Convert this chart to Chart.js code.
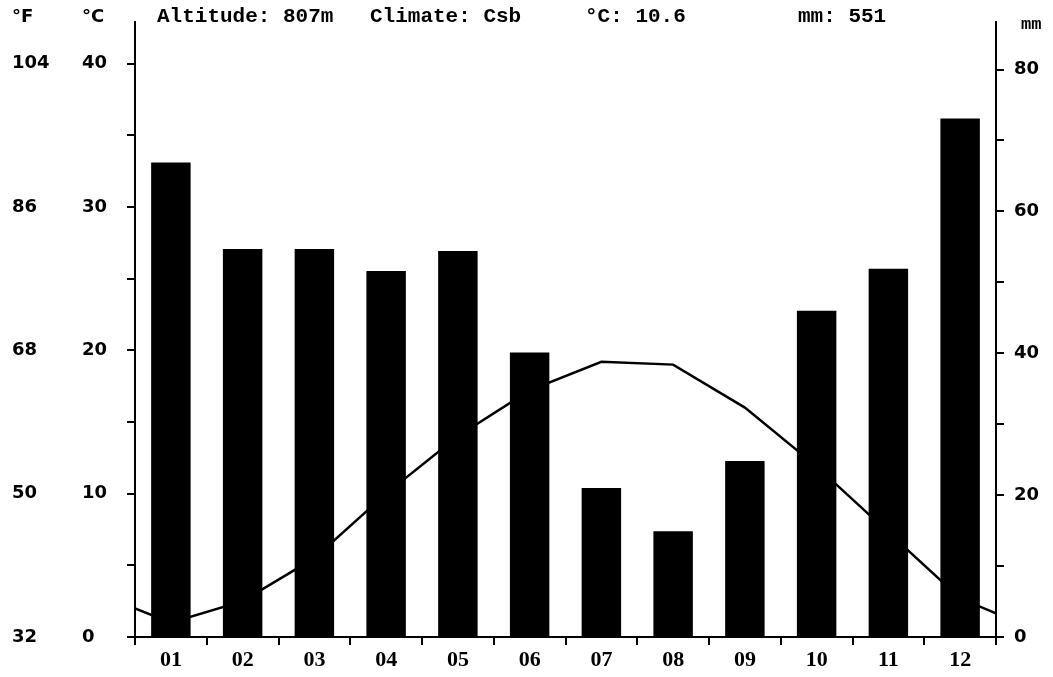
<!DOCTYPE html>
<html>
<head>
<meta charset="utf-8">
<script src="https://cdn.jsdelivr.net/npm/chart.js@4.4.0/dist/chart.umd.min.js"></script>
<style>
    html, body { margin: 0; padding: 0; background: #fff; }
    #wrap { width: 1053px; height: 677px; }
</style>
</head>
<body>
<div id="wrap"><canvas id="climateChart"></canvas></div>
<script>
// Climate diagram data
const months = ['01', '02', '03', '04', '05', '06', '07', '08', '09', '10', '11', '12'];
const precipitation = [66.9, 54.7, 54.7, 51.6, 54.4, 40.1, 21.0, 14.9, 24.8, 46.0, 51.9, 73.1]; // mm
const temperature = [1.0, 2.5, 5.5, 10.0, 14.0, 17.2, 19.2, 19.0, 16.0, 11.9, 7.3, 2.7];     // °C
const tempEdges = [2.0, 1.65]; // where the line meets the left / right border
const celsiusTicks = [0, 5, 10, 15, 20, 25, 30, 35, 40];
const fahrenheitTicks = [32, 50, 68, 86, 104];
const mmTicks = [0, 10, 20, 30, 40, 50, 60, 70, 80];
const altitude = '807m';
const climate = 'Csb';
const meanTemp = '10.6';
const totalRain = '551';

const C_MAX = 42.9;
const MM_MAX = 86.7;

const tickFont = { family: 'DejaVu Sans', size: 18, weight: 'bold' };

// month positions on a linear x axis (0..11), line gets the border values too
const barPoints = precipitation.map((p, i) => ({ x: i, y: p }));
const tempPoints = [{ x: -0.5, y: tempEdges[0] }]
    .concat(temperature.map((t, i) => ({ x: i, y: t })))
    .concat([{ x: 11.5, y: tempEdges[1] }]);

// header texts above the plot
const headerPlugin = {
    id: 'header',
    afterDraw(chart) {
        const { ctx, chartArea, scales } = chart;
        ctx.save();
        ctx.fillStyle = '#000';
        ctx.textBaseline = 'middle';
        ctx.textAlign = 'left';
        ctx.font = 'bold 18px "DejaVu Sans"';
        ctx.fillText('°F', scales.yF.left, 17);
        ctx.fillText('°C', scales.yC.left, 17);
        ctx.font = 'bold 21px "Liberation Mono"';
        ctx.fillText('Altitude: ' + altitude, chartArea.left + 22, 17);
        ctx.fillText('Climate: ' + climate, chartArea.left + 235, 17);
        ctx.fillText('°C: ' + meanTemp, chartArea.left + 450, 17);
        ctx.fillText('mm: ' + totalRain, chartArea.left + 663, 17);
        ctx.font = 'bold 17px "Liberation Mono"';
        ctx.fillText('mm', scales.y.left + 25, 25);
        ctx.restore();
    }
};

function initChart() {
    const ctx = document.getElementById('climateChart').getContext('2d');

    new Chart(ctx, {
        type: 'bar',
        data: {
            datasets: [
                {
                    type: 'line',
                    label: 'Temperature',
                    data: tempPoints,
                    yAxisID: 'yC',
                    borderColor: '#000',
                    borderWidth: 2.5,
                    pointRadius: 0,
                    tension: 0,
                    order: 2
                },
                {
                    label: 'Precipitation',
                    data: barPoints,
                    yAxisID: 'y',
                    backgroundColor: '#000',
                    borderWidth: 0,
                    grouped: false,
                    categoryPercentage: 1,
                    barPercentage: 0.55,
                    order: 1
                }
            ]
        },
        options: {
            responsive: true,
            maintainAspectRatio: false,
            animation: false,
            layout: { padding: { top: 22, left: 12, right: 0, bottom: 0 } },
            plugins: {
                legend: { display: false },
                tooltip: { enabled: false }
            },
            scales: {
                x: {
                    type: 'linear',
                    position: 'bottom',
                    offset: false,
                    min: -0.5,
                    max: 11.5,
                    afterBuildTicks: s => { s.ticks = months.map((m, i) => ({ value: i })); },
                    grid: { drawOnChartArea: false, offset: true, tickLength: 8, color: '#000', lineWidth: 2 },
                    border: { color: '#000', width: 2 },
                    ticks: {
                        color: '#000',
                        padding: 2,
                        autoSkip: false,
                        maxRotation: 0,
                        font: { family: 'Liberation Serif', size: 22, weight: 'bold' },
                        callback: v => months[v]
                    },
                    afterFit: s => { s.height = 40; }
                },
                yC: {
                    position: 'left',
                    weight: 1,
                    min: 0,
                    max: C_MAX,
                    afterBuildTicks: s => { s.ticks = celsiusTicks.map(v => ({ value: v })); },
                    grid: { drawOnChartArea: false, tickLength: 8, color: '#000', lineWidth: 2 },
                    border: { color: '#000', width: 2 },
                    ticks: {
                        color: '#000',
                        crossAlign: 'far',
                        font: tickFont,
                        callback: v => (v % 10 === 0 ? v : '')
                    },
                    afterFit: s => { s.width = 53; }
                },
                yF: {
                    position: 'left',
                    weight: 2,
                    min: 32,
                    max: C_MAX * 1.8 + 32,
                    afterBuildTicks: s => { s.ticks = fahrenheitTicks.map(v => ({ value: v })); },
                    grid: { display: false },
                    border: { display: false },
                    ticks: { color: '#000', crossAlign: 'far', font: tickFont },
                    afterFit: s => { s.width = 70; }
                },
                y: {
                    position: 'right',
                    min: 0,
                    max: MM_MAX,
                    afterBuildTicks: s => { s.ticks = mmTicks.map(v => ({ value: v })); },
                    grid: { drawOnChartArea: false, tickLength: 8, color: '#000', lineWidth: 2 },
                    border: { color: '#000', width: 2 },
                    ticks: {
                        color: '#000',
                        padding: 10,
                        font: tickFont,
                        callback: v => (v % 20 === 0 ? v : '')
                    },
                    afterFit: s => { s.width = 57; }
                }
            }
        },
        plugins: [headerPlugin]
    });
}

document.addEventListener('DOMContentLoaded', initChart);
</script>
</body>
</html>
